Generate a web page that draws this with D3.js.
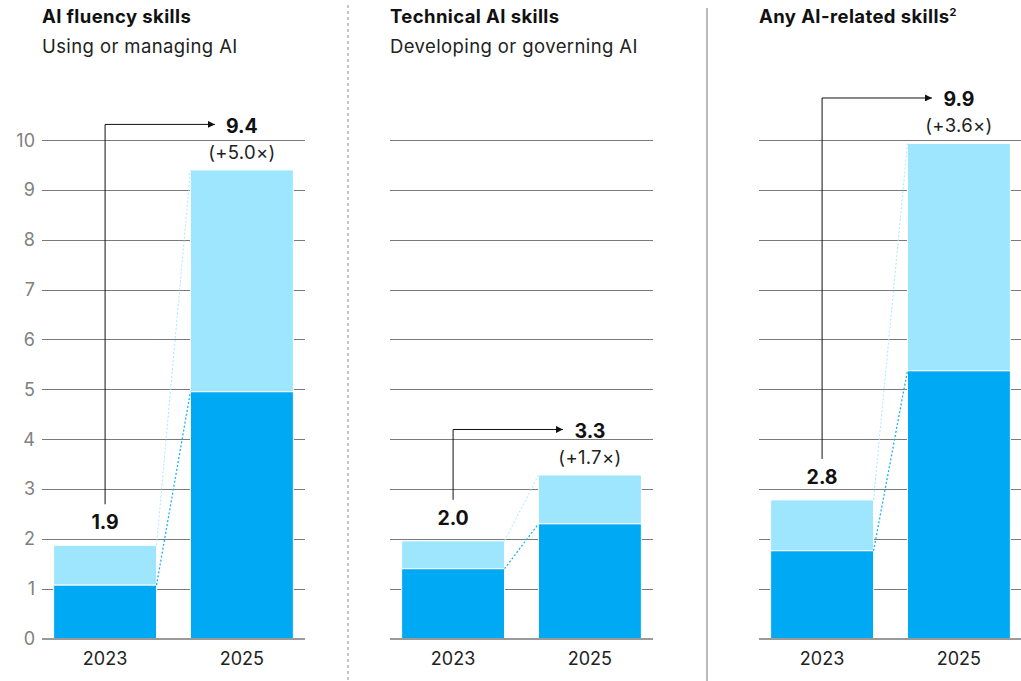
<!DOCTYPE html>
<head>
    <title>AI skills</title>
    <meta charset="utf-8" />
</head>

<style>
    body {
        margin: 0;
        background: #fff;
        font-family: Inter, "Liberation Sans", Arial, sans-serif;
    }
    .grid line {
        stroke: #7a7a7a;
        stroke-width: 1px;
        shape-rendering: crispEdges;
    }
    .ticklabel {
        fill: #808080;
        font-size: 18px;
    }
    .title {
        font-weight: bold;
        font-size: 18.5px;
        letter-spacing: 0.4px;
        fill: #111;
    }
    .subtitle {
        font-size: 18.5px;
        letter-spacing: 0.4px;
        fill: #222;
    }
</style>

<body>
    <svg id="chart" width="1021" height="681"></svg>

    <script src="https://d3js.org/d3.v7.min.js"></script>

    <script>
        // data
        var titles = ["AI fluency skills", "Technical AI skills", "Any AI-related skills"];
        var subtitles = ["Using or managing AI", "Developing or governing AI", ""];
        var years = ["2023", "2025"];
        var total2023 = [1.87, 1.96, 2.78];
        var total2025 = [9.4, 3.28, 9.93];
        var core2023 = [1.07, 1.40, 1.76];
        var core2025 = [4.95, 2.30, 5.37];
        var label2023 = ["1.9", "2.0", "2.8"];
        var label2025 = ["9.4", "3.3", "9.9"];
        var growth = ["(+5.0×)", "(+1.7×)", "(+3.6×)"];
        var yTicks = [0, 1, 2, 3, 4, 5, 6, 7, 8, 9, 10];

        var dark = "#00a9f4",
            light = "#9de6fe";

        var svg = d3.select("#chart");

        var panelLeft = [42, 390, 759];
        var panelWidth = 263;

        var y = d3.scaleLinear().domain([0, 10]).range([638.5, 140]);

        // separators
        svg.append("line")
            .attr("x1", 348).attr("x2", 348)
            .attr("y1", 5).attr("y2", 681)
            .attr("stroke", "#8a8a8a")
            .attr("stroke-dasharray", "3,3");
        svg.append("line")
            .attr("x1", 707).attr("x2", 707)
            .attr("y1", 8).attr("y2", 681)
            .attr("stroke", "#777");

        svg.append("defs").append("marker")
            .attr("id", "arrow")
            .attr("viewBox", "0 0 10 10")
            .attr("refX", 10).attr("refY", 5)
            .attr("markerWidth", 7).attr("markerHeight", 7)
            .attr("markerUnits", "userSpaceOnUse")
            .attr("orient", "auto")
            .append("path")
            .attr("d", "M0,0L10,5L0,10z")
            .attr("fill", "#111");

        titles.forEach(function(t, i) {
            var L = panelLeft[i];
            var g = svg.append("g");

            var x = d3.scaleBand()
                .domain(years)
                .range([L, L + panelWidth])
                .paddingInner(0.248)
                .paddingOuter(0.085);

            // titles
            var tt = g.append("text")
                .attr("class", "title")
                .attr("x", L).attr("y", 23)
                .text(t);
            if (i == 2) {
                tt.append("tspan")
                    .attr("font-size", "11px")
                    .attr("dy", -7)
                    .text("2");
            }
            g.append("text")
                .attr("class", "subtitle")
                .attr("x", L).attr("y", 53)
                .text(subtitles[i]);

            // gridlines
            g.append("g")
                .attr("class", "grid")
                .selectAll("line")
                .data(yTicks.slice(1))
                .enter().append("line")
                .attr("x1", L).attr("x2", L + panelWidth)
                .attr("y1", function(d) { return Math.round(y(d)) + 0.5; })
                .attr("y2", function(d) { return Math.round(y(d)) + 0.5; });

            if (i == 0) {
                g.selectAll(".ticklabel")
                    .data(yTicks)
                    .enter().append("text")
                    .attr("class", "ticklabel")
                    .attr("x", 35)
                    .attr("y", function(d) { return y(d) + 6.5; })
                    .attr("text-anchor", "end")
                    .text(function(d) { return d; });
            }

            var bars = [
                { year: "2023", total: total2023[i], core: core2023[i] },
                { year: "2025", total: total2025[i], core: core2025[i] }
            ];

            // light segment (total)
            g.selectAll(".light")
                .data(bars)
                .enter().append("rect")
                .attr("x", function(d) { return x(d.year); })
                .attr("width", x.bandwidth())
                .attr("y", function(d) { return y(d.total); })
                .attr("height", function(d) { return y(d.core) - y(d.total); })
                .attr("fill", light)
                .attr("stroke", "#fff")
                .attr("stroke-width", 1);

            g.selectAll(".dark")
                .data(bars)
                .enter().append("rect")
                .attr("x", function(d) { return x(d.year); })
                .attr("width", x.bandwidth())
                .attr("y", function(d) { return y(d.core); })
                .attr("height", function(d) { return y(0) - y(d.core); })
                .attr("fill", dark)
                .attr("stroke", "#fff")
                .attr("stroke-width", 1);

            // zero line
            g.append("line")
                .attr("x1", L).attr("x2", L + panelWidth)
                .attr("y1", y(0) + 0.5).attr("y2", y(0) + 0.5)
                .attr("stroke", "#9a9a9a")
                .attr("stroke-width", 2);

            // dotted connectors
            var x0 = x("2023") + x.bandwidth(),
                x1 = x("2025");
            g.append("line")
                .attr("x1", x0).attr("y1", y(total2023[i]))
                .attr("x2", x1).attr("y2", y(total2025[i]))
                .attr("stroke", "#a8e8ff")
                .attr("stroke-width", 1)
                .attr("stroke-dasharray", "2,2");
            g.append("line")
                .attr("x1", x0).attr("y1", y(core2023[i]))
                .attr("x2", x1).attr("y2", y(core2025[i]))
                .attr("stroke", "#1fb0f2")
                .attr("stroke-width", 1.3)
                .attr("stroke-dasharray", "2,2");

            // labels
            var c0 = x("2023") + x.bandwidth() / 2,
                c1 = x("2025") + x.bandwidth() / 2;
            var lab0y = y(total2023[i]) - 16;
            g.append("text")
                .attr("x", c0).attr("y", lab0y)
                .attr("text-anchor", "middle")
                .attr("font-weight", "bold")
                .attr("font-size", "19.5px")
                .attr("fill", "#111")
                .text(label2023[i]);

            var growY = y(total2025[i]) - 11;
            var lab1y = growY - 26;
            g.append("text")
                .attr("x", c1).attr("y", lab1y)
                .attr("text-anchor", "middle")
                .attr("font-weight", "bold")
                .attr("font-size", "19.5px")
                .attr("fill", "#111")
                .text(label2025[i]);
            g.append("text")
                .attr("x", c1).attr("y", growY)
                .attr("text-anchor", "middle")
                .attr("font-size", "18.5px")
                .attr("letter-spacing", "0.3px")
                .attr("fill", "#222")
                .text(growth[i]);

            // arrow
            var ay = lab1y - 8.5;
            g.append("path")
                .attr("d", "M" + c0 + "," + (lab0y - 25) + "V" + ay + "H" + (c1 - 27))
                .attr("fill", "none")
                .attr("stroke", "#111")
                .attr("stroke-width", 1)
                .attr("marker-end", "url(#arrow)");

            // years
            g.selectAll(".year")
                .data(years)
                .enter().append("text")
                .attr("x", function(d) { return x(d) + x.bandwidth() / 2; })
                .attr("y", 665)
                .attr("text-anchor", "middle")
                .attr("font-size", "18px")
                .attr("fill", "#222")
                .text(function(d) { return d; });
        });
    </script>
</body>
